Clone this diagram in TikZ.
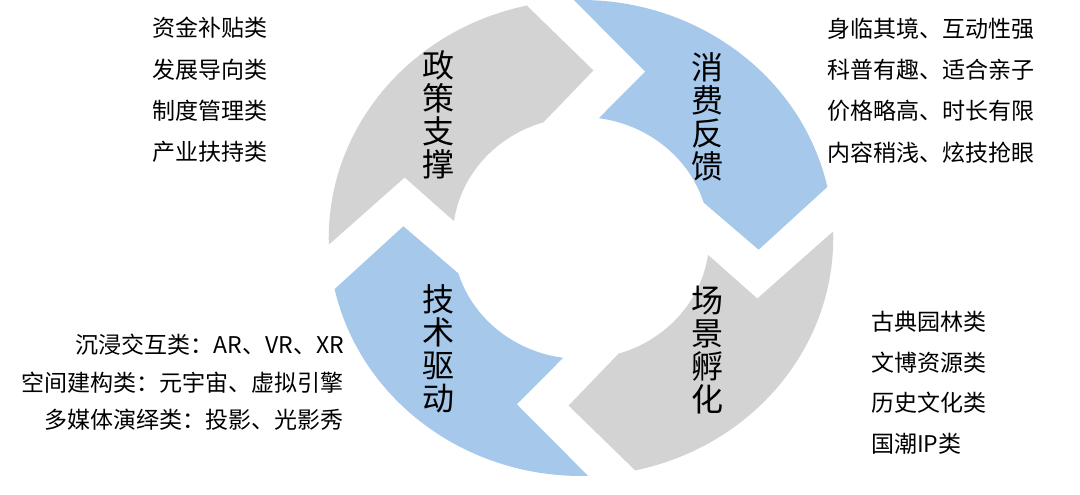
\documentclass[tikz,border=0pt]{standalone}
\usepackage{fontspec}
\setmainfont{Noto Sans CJK SC}
\usetikzlibrary{positioning}
\definecolor{grigio}{RGB}{211,211,211}
\definecolor{azzurro}{RGB}{165,200,235}
\tikzset{main base/.style={inner sep=0pt,text centered, }, }
\tikzset{main verb/.style={main base,align=center,font=\fontsize{32}{33}\selectfont}, }
\tikzset{main list/.style={inner sep=0pt,align=left,font=\fontsize{23}{41.3}\selectfont}, }
\tikzset{main list2/.style={main list,align=right,font=\fontsize{23}{37.5}\selectfont}, }

\begin{document}
\begin{tikzpicture}[x=1pt,y=1pt]
  \useasboundingbox (0,0) rectangle (1080,495);
  % anello di frecce
  \begin{scope}[shift={(581,257)},xscale=1.06]
  \foreach \t/\c in {187/grigio,97/azzurro,7/grigio,-83/azzurro}{
    \pgfmathsetmacro{\h}{\t-90}
    \fill[\c] ({\t-5.4}:238) arc[start angle=\t-5.4,end angle=\h+5.4,radius=238]
      -- ({\h-11}:168) -- ({\h+10}:121)
      arc[start angle=\h+10,end angle=\t-15,radius=121]
      -- ({\t-27}:177) -- cycle;
  }
  \end{scope}
  %
  \node[main verb] (1) at (438,380) {政\\策\\支\\撑};
  \node[main verb] (2) at (707,378) {消\\费\\反\\馈};
  \node[main verb] (3) at (707,145) {场\\景\\孵\\化};
  \node[main verb] (4) at (438,146) {技\\术\\驱\\动};
  %
  \node[main list,anchor=west] (5) at (152,405) {资金补贴类\\发展导向类\\制度管理类\\产业扶持类};
  \node[main list,anchor=west] (6) at (827,404.5) {身临其境、互动性强\\科普有趣、适合亲子\\价格略高、时长有限\\内容稍浅、炫技抢眼};
  \node[main list,anchor=west,font=\fontsize{23}{40.5}\selectfont] (7) at (871,112.5) {古典园林类\\文博资源类\\历史文化类\\国潮IP类};
  \node[main list2,anchor=east] (8) at (344,112.5) {沉浸交互类：AR、VR、XR\\空间建构类：元宇宙、虚拟引擎\\多媒体演绎类：投影、光影秀};
\end{tikzpicture}
\end{document}
